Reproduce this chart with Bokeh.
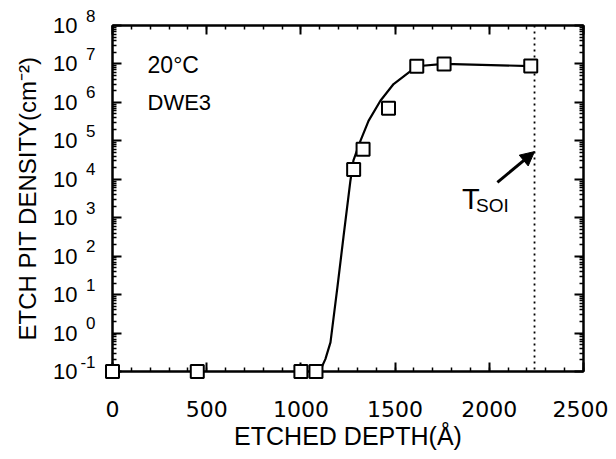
from bokeh.plotting import figure
from bokeh.models import (Range1d, FixedTicker, LinearAxis, LogAxis, CustomJSTickFormatter,
                          Label, Span, Arrow, NormalHead)
from bokeh.embed import file_html
from bokeh.resources import INLINE

# ---- data ----
depth_pts = [0, 450, 1000, 1080, 1280, 1330, 1465, 1615, 1760, 2220]
density_pts = [0.1, 0.1, 0.1, 0.1, 1.8e4, 6.0e4, 7.0e5, 8.7e6, 1.0e7, 8.8e6]

fit_depth = [1100, 1130, 1157, 1194, 1226, 1263, 1279, 1316, 1359, 1422, 1492, 1582, 1614, 1760, 2220]
fit_density = [0.1, 0.21, 0.57, 16, 316, 9.3e3, 3.1e4, 1.0e5, 3.3e5, 1.1e6, 3.0e6, 6.5e6, 8.7e6, 1.0e7, 8.8e6]

x_ticks = [0, 500, 1000, 1500, 2000, 2500]
x_minor = list(range(0, 2501, 100))
y_exponents = [-1, 0, 1, 2, 3, 4, 5, 6, 7, 8]
t_soi_depth = 2240
arrow_start = (2043, 10 ** 3.92)
arrow_end = (2240, 10 ** 4.72)

FONT = "Liberation Sans"

p = figure(width=608, height=455, x_range=Range1d(0, 2500), y_range=Range1d(0.1, 1e8),
           y_axis_type="log", output_backend="svg", toolbar_location=None,
           min_border_left=112, min_border_right=25, min_border_top=25, min_border_bottom=84)
p.grid.visible = False
p.outline_line_color = "black"
p.outline_line_width = 2
p.background_fill_color = "white"
p.border_fill_color = "white"

y_major = [10.0 ** e for e in y_exponents]
y_minor = [m * 10.0 ** e for e in y_exponents[:-1] for m in range(2, 10)]
empty = CustomJSTickFormatter(code="return ''")

xax = p.xaxis[0]
xax.ticker = FixedTicker(ticks=x_ticks, minor_ticks=x_minor)
xax.axis_label = "ETCHED DEPTH(Å)"
xax.major_label_text_font = "DejaVu Sans"
xax.major_label_text_font_size = "22px"
xax.major_label_standoff = 29
xax.axis_label_standoff = 2

# inner left axis: exponents, raised by an empty second line
yax = p.yaxis[0]
yax.ticker = FixedTicker(ticks=y_major, minor_ticks=y_minor)
yax.formatter = CustomJSTickFormatter(code="return String(Math.round(Math.log10(tick))) + '\\n '")
yax.major_label_standoff = 17
yax.major_label_text_font = FONT
yax.major_label_text_font_size = "17px"
yax.major_label_text_line_height = 1.0

# outer left axis: the "10" base of each label, plus the title
ybase = LogAxis(ticker=FixedTicker(ticks=y_major, minor_ticks=[]),
                formatter=CustomJSTickFormatter(code="return '10'"),
                axis_line_color=None, major_tick_line_color=None, minor_tick_line_color=None,
                major_tick_in=0, major_tick_out=0, minor_tick_in=0, minor_tick_out=0,
                major_label_standoff=0, major_label_text_font=FONT,
                major_label_text_font_size="22px", major_label_text_color="black",
                axis_label="ETCH PIT DENSITY(cm⁻²)", axis_label_standoff=9,
                axis_label_text_font=FONT, axis_label_text_font_size="24px",
                axis_label_text_font_style="normal", axis_label_text_color="black")
p.add_layout(ybase, "left")

top = LinearAxis(ticker=FixedTicker(ticks=x_ticks, minor_ticks=x_minor), formatter=empty,
                 major_label_standoff=0)
right = LogAxis(ticker=FixedTicker(ticks=y_major, minor_ticks=y_minor), formatter=empty,
                major_label_standoff=0)
p.add_layout(top, "above")
p.add_layout(right, "right")

for ax in [xax, yax, top, right]:
    ax.axis_line_width = 2
    ax.axis_line_color = "black"
    ax.major_tick_in = 9
    ax.major_tick_out = 0
    ax.minor_tick_in = 4
    ax.minor_tick_out = 0
    ax.major_tick_line_width = 2
    ax.minor_tick_line_width = 1.5
    ax.major_tick_line_color = "black"
    ax.minor_tick_line_color = "black"
    ax.major_label_text_color = "black"
    ax.axis_label_text_font = FONT
    ax.axis_label_text_font_size = "25px"
    ax.axis_label_text_font_style = "normal"
    ax.axis_label_text_color = "black"

# fitted curve and data
p.line(fit_depth, fit_density, line_color="black", line_width=2.2)
r = p.scatter(depth_pts, density_pts, marker="square", size=13, fill_color="white",
              line_color="black", line_width=2)
r.level = "overlay"

# T_SOI marker
p.add_layout(Span(location=t_soi_depth, dimension="height", line_color="black",
                  line_dash="dotted", line_width=1.8))
p.add_layout(Arrow(end=NormalHead(size=14, fill_color="black", line_color="black"),
                   x_start=arrow_start[0], y_start=arrow_start[1],
                   x_end=arrow_end[0], y_end=arrow_end[1],
                   line_color="black", line_width=3))
p.add_layout(Label(x=1855, y=10 ** 3.5, text="T", text_font=FONT, text_font_size="29px",
                   text_baseline="alphabetic", text_color="black"))
p.add_layout(Label(x=1930, y=10 ** 3.32, text="SOI", text_font=FONT, text_font_size="19px",
                   text_baseline="alphabetic", text_color="black"))

# annotations
p.add_layout(Label(x=186, y=10 ** 6.97, text="20°C", text_font=FONT, text_font_size="23px",
                   text_baseline="middle", text_color="black"))
p.add_layout(Label(x=186, y=10 ** 6.01, text="DWE3", text_font=FONT, text_font_size="22px",
                   text_baseline="middle", text_color="black"))

open("out.html", "w").write(file_html(p, INLINE))
